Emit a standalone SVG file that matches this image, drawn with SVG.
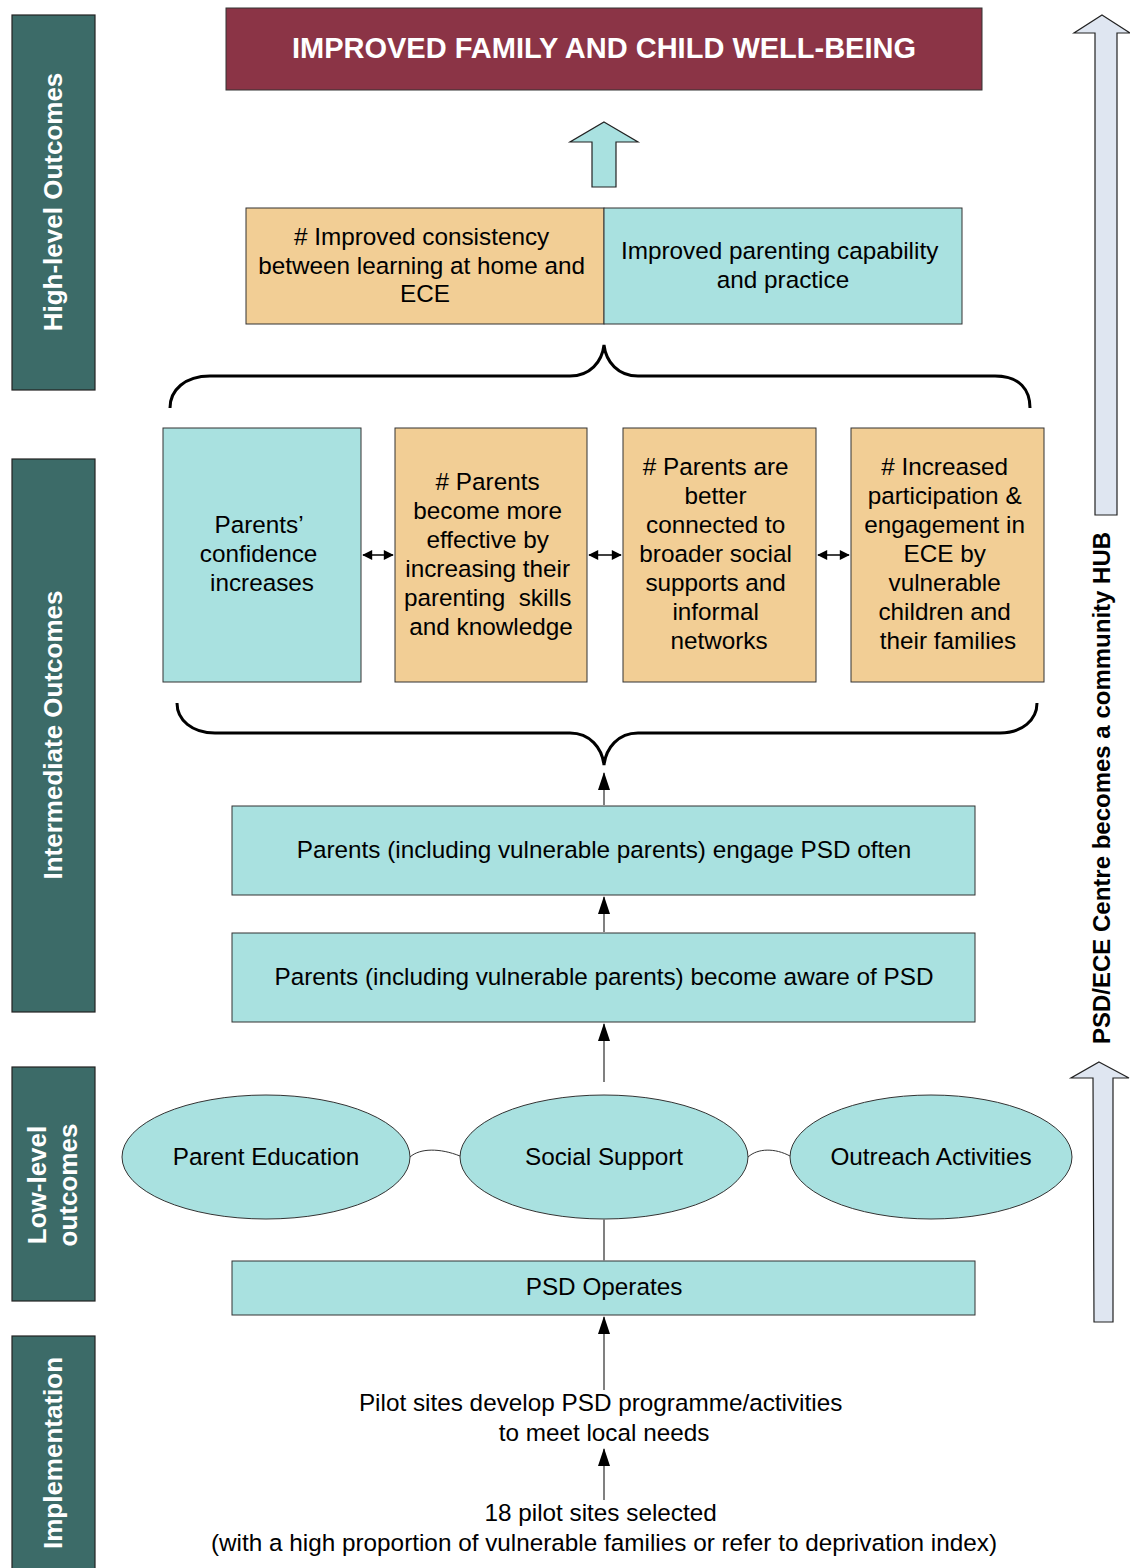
<svg xmlns="http://www.w3.org/2000/svg" width="1130" height="1568" viewBox="0 0 1130 1568">
<defs>
<marker id="ah" viewBox="0 0 18 12" refX="17" refY="6" markerWidth="18" markerHeight="12" markerUnits="userSpaceOnUse" orient="auto">
<path d="M0,0 L18,6 L0,12 Z" fill="#000"/>
</marker>
<marker id="dh" viewBox="0 0 12 12" refX="11" refY="6" markerWidth="12" markerHeight="10" markerUnits="userSpaceOnUse" orient="auto-start-reverse">
<path d="M0,0 L12,6 L0,12 Z" fill="#000"/>
</marker>
<style>
.bar{fill:#3c6b68;stroke:#222;stroke-width:1.2}
.bt{font-family:"Liberation Sans",Arial,sans-serif;font-weight:bold;font-size:26px;fill:#fff;text-anchor:middle}
.teal{fill:#a9e1e0;stroke:#333;stroke-width:1}
.peach{fill:#f2ce95;stroke:#333;stroke-width:1}
.t{font-family:"Liberation Sans",Arial,sans-serif;font-size:24.3px;fill:#000;text-anchor:middle}
.con{stroke:#808080;stroke-width:2;fill:none}
.brace{stroke:#000;stroke-width:3;fill:none}
.dbl{stroke:#000;stroke-width:1.5;fill:none}
.link{stroke:#333;stroke-width:1;fill:none}
</style>
</defs>

<g id="band-high">
<rect class="bar" x="12" y="15" width="83" height="375"/>
<text class="bt" transform="translate(62,202) rotate(-90)">High-level Outcomes</text>
</g>
<g id="band-intermediate">
<rect class="bar" x="12" y="459" width="83" height="553"/>
<text class="bt" transform="translate(62,735) rotate(-90)">Intermediate Outcomes</text>
</g>
<g id="band-low">
<rect class="bar" x="12" y="1067" width="83" height="234"/>
<text class="bt" transform="translate(46,1185) rotate(-90)">Low-level</text>
<text class="bt" transform="translate(77,1185) rotate(-90)">outcomes</text>
</g>
<g id="band-impl">
<rect class="bar" x="12" y="1336" width="83" height="240"/>
<text class="bt" transform="translate(62,1453) rotate(-90)">Implementation</text>
</g>

<g id="top-outcome">
<rect x="226" y="8" width="756" height="82" fill="#8b3446" stroke="#333" stroke-width="1"/>
<text x="604" y="58" font-family="Liberation Sans,Arial,sans-serif" font-weight="bold" font-size="29" fill="#fff" text-anchor="middle">IMPROVED FAMILY AND CHILD WELL-BEING</text>
</g>

<g id="block-arrow-up">
<path d="M604,122 L638,142 L616,142 L616,187 L592,187 L592,142 L570,142 Z" fill="#a9e1e0" stroke="#222" stroke-width="1.2"/>
</g>

<g id="consistency">
<rect class="peach" x="246" y="208" width="358" height="116"/>
<text class="t">
<tspan x="425" y="245"># Improved consistency</tspan>
<tspan x="425" y="274">between learning at home and</tspan>
<tspan x="425" y="302">ECE</tspan>
</text>
</g>
<g id="parenting-capability">
<rect class="teal" x="604" y="208" width="358" height="116"/>
<text class="t">
<tspan x="783" y="259">Improved parenting capability</tspan>
<tspan x="783" y="288">and practice</tspan>
</text>
</g>

<g id="confidence">
<rect class="teal" x="163" y="428" width="198" height="254"/>
<text class="t">
<tspan x="262" y="533">Parents’</tspan>
<tspan x="262" y="562">confidence</tspan>
<tspan x="262" y="591">increases</tspan>
</text>
</g>
<g id="effective">
<rect class="peach" x="395" y="428" width="192" height="254"/>
<text class="t">
<tspan x="491" y="490"># Parents</tspan>
<tspan x="491" y="519">become more</tspan>
<tspan x="491" y="548">effective by</tspan>
<tspan x="491" y="577">increasing their</tspan>
<tspan x="491" y="606" xml:space="preserve">parenting  skills</tspan>
<tspan x="491" y="635">and knowledge</tspan>
</text>
</g>
<g id="connected">
<rect class="peach" x="623" y="428" width="193" height="254"/>
<text class="t">
<tspan x="719" y="475"># Parents are</tspan>
<tspan x="719" y="504">better</tspan>
<tspan x="719" y="533">connected to</tspan>
<tspan x="719" y="562">broader social</tspan>
<tspan x="719" y="591">supports and</tspan>
<tspan x="719" y="620">informal</tspan>
<tspan x="719" y="649">networks</tspan>
</text>
</g>
<g id="participation">
<rect class="peach" x="851" y="428" width="193" height="254"/>
<text class="t">
<tspan x="948" y="475"># Increased</tspan>
<tspan x="948" y="504">participation &amp;</tspan>
<tspan x="948" y="533">engagement in</tspan>
<tspan x="948" y="562">ECE by</tspan>
<tspan x="948" y="591">vulnerable</tspan>
<tspan x="948" y="620">children and</tspan>
<tspan x="948" y="649">their families</tspan>
</text>
</g>

<g id="engage">
<rect class="teal" x="232" y="806" width="743" height="89"/>
<text class="t" x="604" y="858">Parents (including vulnerable parents) engage PSD often</text>
</g>
<g id="aware">
<rect class="teal" x="232" y="933" width="743" height="89"/>
<text class="t" x="604" y="985">Parents (including vulnerable parents) become aware of PSD</text>
</g>

<g id="parent-education">
<ellipse class="teal" cx="266" cy="1157" rx="144" ry="62"/>
<text class="t" x="266" y="1165">Parent Education</text>
</g>
<g id="social-support">
<ellipse class="teal" cx="604" cy="1157" rx="144" ry="62"/>
<text class="t" x="604" y="1165">Social Support</text>
</g>
<g id="outreach">
<ellipse class="teal" cx="931" cy="1157" rx="141" ry="62"/>
<text class="t" x="931" y="1165">Outreach Activities</text>
</g>

<g id="psd-operates">
<rect class="teal" x="232" y="1261" width="743" height="54"/>
<text class="t" x="604" y="1295">PSD Operates</text>
</g>

<g id="pilot-develop">
<text class="t">
<tspan x="604" y="1411">Pilot sites develop PSD programme/activities</tspan>
<tspan x="604" y="1441">to meet local needs</tspan>
</text>
</g>
<g id="pilot-selected">
<text class="t">
<tspan x="604" y="1521">18 pilot sites selected</tspan>
<tspan x="604" y="1551">(with a high proportion of vulnerable families or refer to deprivation index)</tspan>
</text>
</g>

<g id="hub-arrow">
<path d="M1102,15 L1130,33 L1117,33 L1117,515 L1095,515 L1095,33 L1074,33 Z" fill="#dfe6f1" stroke="#222" stroke-width="1.2"/>
<path d="M1099,1062 L1129,1078 L1113,1078 L1113,1322 L1094,1322 L1093,1078 L1071,1078 Z" fill="#dfe6f1" stroke="#222" stroke-width="1.2"/>
<text transform="translate(1110,788) rotate(-90)" font-family="Liberation Sans,Arial,sans-serif" font-weight="bold" font-size="24" fill="#000" text-anchor="middle">PSD/ECE Centre becomes a community HUB</text>
</g>

<g id="connectors">
<path class="brace" d="M170,408 C170,390 185,376 210,376 L570,376 C590,376 602,362 604,345 C606,362 618,376 638,376 L995,376 C1020,376 1030,390 1030,408"/>
<path class="brace" d="M177,703 C177,720 192,733 215,733 L570,733 C590,733 602,748 604,765 C606,748 618,733 638,733 L1000,733 C1022,733 1037,720 1037,703"/>
<line class="dbl" x1="363" y1="555" x2="393" y2="555" marker-start="url(#dh)" marker-end="url(#dh)"/>
<line class="dbl" x1="589" y1="555" x2="621" y2="555" marker-start="url(#dh)" marker-end="url(#dh)"/>
<line class="dbl" x1="818" y1="555" x2="849" y2="555" marker-start="url(#dh)" marker-end="url(#dh)"/>
<line class="con" x1="604" y1="805" x2="604" y2="773" marker-end="url(#ah)"/>
<line class="con" x1="604" y1="932" x2="604" y2="897" marker-end="url(#ah)"/>
<line class="con" x1="604" y1="1082" x2="604" y2="1024" marker-end="url(#ah)"/>
<path class="link" d="M410,1157 C420,1148 440,1148 460,1156"/>
<path class="link" d="M748,1157 C758,1148 775,1148 790,1156"/>
<line class="con" x1="604" y1="1219" x2="604" y2="1261"/>
<line class="con" x1="604" y1="1390" x2="604" y2="1317" marker-end="url(#ah)"/>
<line class="con" x1="604" y1="1500" x2="604" y2="1449" marker-end="url(#ah)"/>
</g>
</svg>
